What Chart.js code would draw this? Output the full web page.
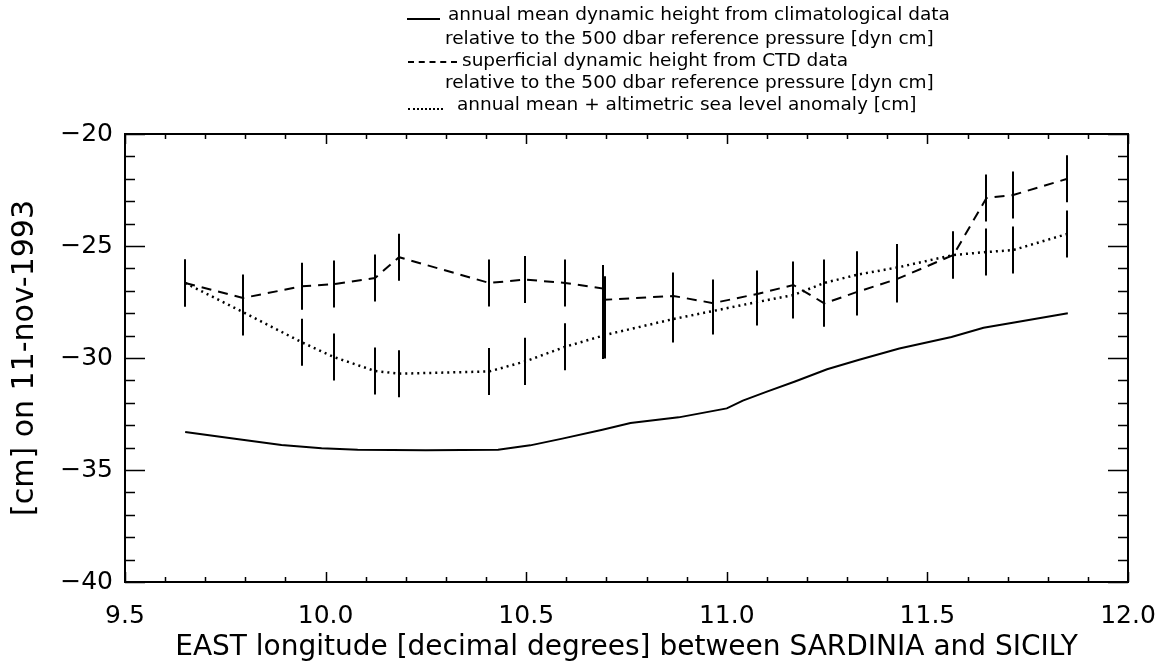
<!DOCTYPE html>
<html>
<head>
<meta charset="utf-8">
<script src="https://cdn.jsdelivr.net/npm/chart.js@4.4.0/dist/chart.umd.min.js"></script>
<style>
  html, body { margin: 0; padding: 0; background: #fff; }
  #wrap { position: relative; width: 1163px; height: 665px; }
  #chart { position: absolute; left: 0; top: 0; }
  .leg { position: absolute; font-family: 'DejaVu Sans'; font-size: 18.5px; line-height: 22px; color: #000; white-space: nowrap; }
  .sample { position: absolute; height: 0; border-top: 2px solid #000; }
</style>
</head>
<body>
<div id="wrap">
  <canvas id="chart" width="1163" height="665"></canvas>

  <div class="sample" style="left:407px;top:18px;width:33px;border-top-style:solid"></div>
  <div class="leg" style="left:448px;top:3px">annual mean dynamic height from climatological data</div>
  <div class="leg" style="left:445px;top:27px">relative to the 500 dbar reference pressure [dyn cm]</div>
  <div class="sample" style="left:408px;top:61px;width:49px;border-top-style:dashed"></div>
  <div class="leg" style="left:462px;top:49px">superficial dynamic height from CTD data</div>
  <div class="leg" style="left:445px;top:71px">relative to the 500 dbar reference pressure [dyn cm]</div>
  <div class="sample" style="left:408px;top:108px;width:35px;border-top-style:dotted"></div>
  <div class="leg" style="left:457px;top:93px">annual mean + altimetric sea level anomaly [cm]</div>
</div>

<script>
// stations along the track (longitude, decimal degrees)
const STATIONS = [9.650, 9.794, 9.941, 10.021, 10.123, 10.183, 10.408, 10.498, 10.597, 10.692, 10.697,
                  10.867, 10.966, 11.076, 11.166, 11.243, 11.325, 11.425, 11.565, 11.647, 11.714, 11.849];
// superficial dynamic height from CTD data (dashed)
const CTD_HEIGHT = [-26.65, -27.32, -26.8, -26.7, -26.43, -25.5, -26.65, -26.5, -26.65, -26.9, -27.4,
                    -27.23, -27.55, -27.14, -26.74, -27.56, -27.05, -26.47, -25.4, -22.86, -22.72, -22.0];
// annual mean + altimetric sea level anomaly (dotted)
const ALT_HEIGHT = [-26.65, -27.95, -29.3, -29.96, -30.58, -30.7, -30.6, -30.15, -29.5, -29.0, -28.97,
                    -28.26, -27.9, -27.5, -27.19, -26.65, -26.28, -25.96, -25.4, -25.27, -25.18, -24.46];
// half length of the error bars [cm]
const ERR = 1.05;

// annual mean dynamic height from climatology (solid)
const MEAN_LON = [9.65, 9.76, 9.89, 9.99, 10.08, 10.25, 10.43, 10.51, 10.59, 10.69, 10.76, 10.88,
                  11.0, 11.04, 11.1, 11.17, 11.25, 11.33, 11.43, 11.56, 11.64, 11.72, 11.85];
const MEAN_HEIGHT = [-33.3, -33.57, -33.88, -34.03, -34.1, -34.12, -34.1, -33.9, -33.6, -33.2, -32.9, -32.65,
                     -32.25, -31.9, -31.5, -31.05, -30.5, -30.08, -29.58, -29.06, -28.65, -28.4, -28.0];

const X_MIN = 9.5, X_MAX = 12.0, X_STEP = 0.5;
const Y_MIN = -40, Y_MAX = -20, Y_STEP = 5;

const FONT = 'DejaVu Sans';

function pairs(xs, ys) {
  return xs.map((x, i) => ({ x, y: ys[i] }));
}

// frame, inward ticks (major + minor) and error bars
const frameAndErrors = {
  id: 'frameAndErrors',
  afterDatasetsDraw(chart) {
    const { ctx, chartArea: a, scales: { x, y } } = chart;
    ctx.save();
    ctx.strokeStyle = '#000';
    ctx.lineWidth = 2;

    chart.data.datasets.forEach(ds => {
      if (!ds.errBar) return;
      ds.data.forEach(p => {
        const px = Math.round(x.getPixelForValue(p.x));
        ctx.beginPath();
        ctx.moveTo(px, y.getPixelForValue(p.y - ds.errBar));
        ctx.lineTo(px, y.getPixelForValue(p.y + ds.errBar));
        ctx.stroke();
      });
    });

    ctx.strokeRect(a.left, a.top, a.width, a.height);

    ctx.lineWidth = 1.5;
    ctx.beginPath();
    for (let i = 0; i <= 25; i++) {
      const px = Math.round(x.getPixelForValue(X_MIN + i * 0.1)) + 0.5;
      const len = i % 5 === 0 ? 10 : 5;
      ctx.moveTo(px, a.bottom); ctx.lineTo(px, a.bottom - len);
      ctx.moveTo(px, a.top); ctx.lineTo(px, a.top + len);
    }
    for (let i = 0; i <= 20; i++) {
      const py = Math.round(y.getPixelForValue(Y_MIN + i)) + 0.5;
      const len = i % 5 === 0 ? 20 : 10;
      ctx.moveTo(a.left, py); ctx.lineTo(a.left + len, py);
      ctx.moveTo(a.right, py); ctx.lineTo(a.right - len, py);
    }
    ctx.stroke();
    ctx.restore();
  }
};

new Chart(document.getElementById('chart'), {
  type: 'scatter',
  data: {
    datasets: [
      {
        label: 'annual mean dynamic height from climatological data',
        data: pairs(MEAN_LON, MEAN_HEIGHT),
        showLine: true, borderColor: '#000', borderWidth: 2, pointRadius: 0, tension: 0
      },
      {
        label: 'superficial dynamic height from CTD data',
        data: pairs(STATIONS, CTD_HEIGHT),
        showLine: true, borderColor: '#000', borderWidth: 2, borderDash: [10, 7],
        pointRadius: 0, tension: 0, errBar: ERR
      },
      {
        label: 'annual mean + altimetric sea level anomaly',
        data: pairs(STATIONS, ALT_HEIGHT),
        showLine: true, borderColor: '#000', borderWidth: 2.5, borderDash: [2, 4],
        pointRadius: 0, tension: 0, errBar: ERR
      }
    ]
  },
  options: {
    responsive: false,
    animation: false,
    layout: { padding: { left: 0, right: 35, top: 134, bottom: 0 } },
    plugins: { legend: { display: false }, tooltip: { enabled: false } },
    scales: {
      x: {
        type: 'linear', min: X_MIN, max: X_MAX,
        afterFit: s => { s.height = 83; s.paddingLeft = 0; s.paddingRight = 0; },
        grid: { display: false, drawTicks: false },
        border: { display: false },
        ticks: {
          stepSize: X_STEP, autoSkip: false, maxRotation: 0, padding: 19,
          color: '#000', font: { family: FONT, size: 25 },
          callback: v => Number(v).toFixed(1)
        },
        title: {
          display: true, color: '#000', font: { family: FONT, size: 28 },
          padding: { top: 0, bottom: 0 },
          text: 'EAST longitude [decimal degrees] between SARDINIA and SICILY'
        }
      },
      y: {
        type: 'linear', min: Y_MIN, max: Y_MAX,
        afterFit: s => { s.width = 125; s.paddingTop = 0; s.paddingBottom = 0; },
        grid: { display: false, drawTicks: false },
        border: { display: false },
        ticks: {
          stepSize: Y_STEP, padding: 12,
          color: '#000', font: { family: FONT, size: 25 },
          callback: v => v < 0 ? '\u2212' + Math.abs(v) : String(v)
        },
        title: {
          display: true, color: '#000', font: { family: FONT, size: 30 },
          padding: { top: 7, bottom: 0 },
          text: '[cm] on 11-nov-1993'
        }
      }
    }
  },
  plugins: [frameAndErrors]
});
</script>
</body>
</html>
